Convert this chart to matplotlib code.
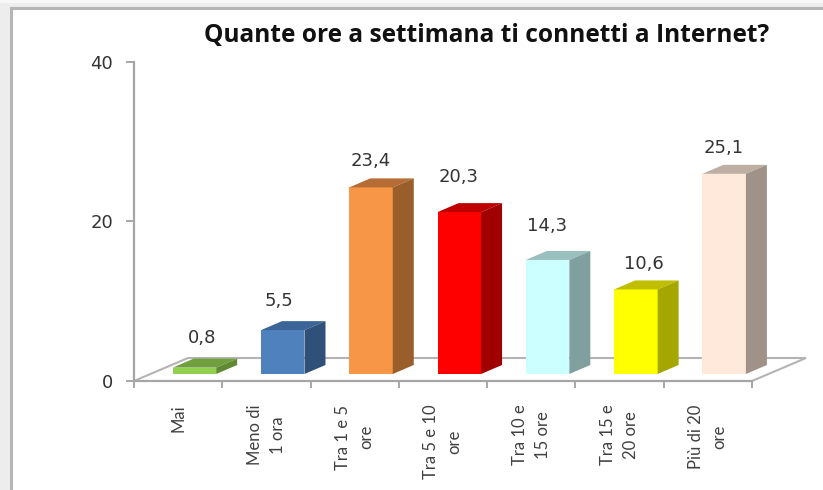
import matplotlib
matplotlib.use("Agg")
import matplotlib.pyplot as plt
from matplotlib.patches import Polygon, Rectangle

categories = ["Mai", "Meno di\n1 ora", "Tra 1 e 5\nore", "Tra 5 e 10\nore",
              "Tra 10 e\n15 ore", "Tra 15 e\n20 ore", "Più di 20\nore"]
values = [0.8, 5.5, 23.4, 20.3, 14.3, 10.6, 25.1]
value_labels = ["0,8", "5,5", "23,4", "20,3", "14,3", "10,6", "25,1"]
front_colors = ["#92D050", "#4F81BD", "#F79646", "#FF0000", "#CCFFFF", "#FFFF00", "#FFE9DA"]
top_colors = ["#6FA03D", "#3B6597", "#B56D35", "#BF0000", "#99BFBF", "#BFBF00", "#BFAFA3"]
side_colors = ["#5F8A33", "#2F5078", "#9A5E2B", "#A00000", "#80A0A0", "#A6A600", "#A09288"]
y_ticks = [0, 20, 40]
title = "Quante ore a settimana ti connetti a Internet?"
label_nudge_px = [(-3, 30), (-14, 29), (-11, 26), (-11, 35), (-11, 34), (-2, 25), (-11, 26)]

W, H = 823, 490
fig = plt.figure(figsize=(W / 100, H / 100), dpi=100, facecolor="#EDEDED")

# white panel with grey edge
fig.add_artist(Rectangle((11 / W, -0.02), 1.02 - 11 / W, (H - 8) / H + 0.02, transform=fig.transFigure,
                         facecolor="white", edgecolor="#B5B5B5", linewidth=2.2, zorder=-5))
fig.add_artist(Rectangle((0, (H - 3) / H), 1, 3 / H, transform=fig.transFigure,
                         facecolor="#F7F7F7", edgecolor="none", zorder=-4))

L, R, T, B = 134, 752, 62, 381
ax = fig.add_axes([L / W, 1 - B / H, (R - L) / W, (B - T) / H])
ax.set_xlim(0, len(values))
ax.set_ylim(0, 40)
ax.patch.set_alpha(0)

px_x = len(values) / (R - L)
px_y = 40 / (B - T)
GREY = "#A6A6A6"

# floor
fdx, fdy = 54 * px_x, 23 * px_y
ax.add_patch(Polygon([(0, 0), (fdx, fdy), (len(values) + fdx, fdy), (len(values), 0)],
                     closed=False, fill=False, edgecolor="#B4B4B4", linewidth=1.5,
                     clip_on=False, zorder=1))

# bars
base = 7 * px_y
inset = 16.3 * px_x
dx, dy = 21 * px_x, 9 * px_y
width = 43.5 * px_x
for i, v in enumerate(values):
    x0 = i + 0.5 - width / 2 + inset
    x1 = x0 + width
    y1 = base + v
    ax.bar(x0, v, width=width, bottom=base, align="edge", color=front_colors[i],
           linewidth=0, zorder=3, clip_on=False)
    ax.add_patch(Polygon([(x0, y1), (x0 + dx, y1 + dy), (x1 + dx, y1 + dy), (x1, y1)],
                         facecolor=top_colors[i], edgecolor="none", zorder=3, clip_on=False))
    ax.add_patch(Polygon([(x1, base), (x1 + dx, base + dy), (x1 + dx, y1 + dy), (x1, y1)],
                         facecolor=side_colors[i], edgecolor="none", zorder=3, clip_on=False))
    nx, ny = label_nudge_px[i]
    ax.annotate(value_labels[i], (x0 + width / 2, y1), xytext=(nx + 10.5, ny),
                textcoords="offset pixels", ha="center", va="center",
                fontsize=13, color="#333333", family="DejaVu Sans", zorder=5,
                annotation_clip=False)

# axes
for s in ("top", "right"):
    ax.spines[s].set_visible(False)
for s in ("left", "bottom"):
    ax.spines[s].set_color(GREY)
    ax.spines[s].set_linewidth(1.6)

ax.set_yticks(y_ticks)
ax.tick_params(axis="y", length=6, width=1.4, color=GREY, pad=9, labelsize=13,
               labelcolor="#333333")
ax.set_xticks([i + 0.5 for i in range(len(values))])
ax.set_xticklabels(categories, rotation=90, ha="center", va="top", multialignment="center",
                   fontsize=12, color="#404040", family="Lato", linespacing=1.55)
ax.set_xticks(range(len(values) + 1), minor=True)
ax.tick_params(axis="x", which="major", length=0, pad=17)
ax.tick_params(axis="x", which="minor", length=5, width=1.4, color=GREY)

fig.text(486.5 / W, 1 - 35 / H, title, ha="center", va="center", fontsize=17.65,
         fontweight="bold", family="Open Sans", color="#111111")

fig.savefig("out.png", dpi=100, facecolor=fig.get_facecolor())
